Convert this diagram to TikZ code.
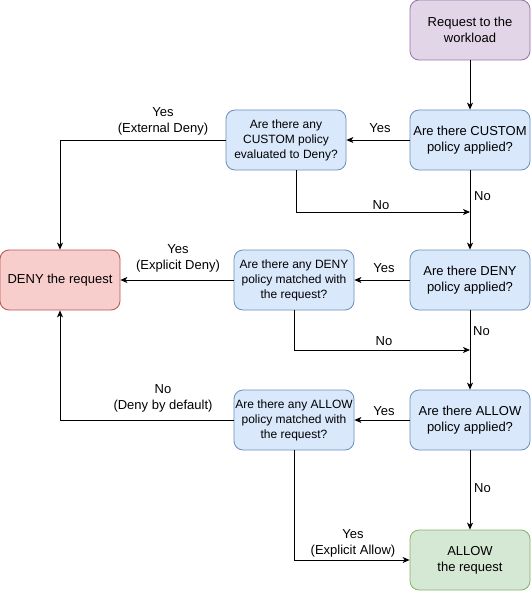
\documentclass[tikz,border=0pt]{standalone}
\usepackage{fontspec}
\setmainfont{Liberation Sans}
\usetikzlibrary{arrows.meta}
\definecolor{pfill}{HTML}{E1D5E7}\definecolor{pline}{HTML}{9673A6}
\definecolor{bfill}{HTML}{DAE8FC}\definecolor{bline}{HTML}{6C8EBF}
\definecolor{rfill}{HTML}{F8CECC}\definecolor{rline}{HTML}{B85450}
\definecolor{gfill}{HTML}{D5E8D4}\definecolor{gline}{HTML}{82B366}
\tikzset{
  box/.style={rectangle, rounded corners=9pt, minimum width=120pt, minimum height=60pt, inner sep=0pt, align=center, line width=0.8pt, font=\fontsize{13}{16}\selectfont},
  qbox/.style={box, font=\fontsize{12}{15}\selectfont},
  purplebox/.style={box, fill=pfill, draw=pline},
  bluebox/.style={box, fill=bfill, draw=bline},
  blueq/.style={qbox, fill=bfill, draw=bline},
  redbox/.style={box, fill=rfill, draw=rline},
  greenbox/.style={box, fill=gfill, draw=gline},
  conn/.style={draw, line width=0.8pt, -{Stealth[length=7pt,width=6pt,inset=2pt]}},
  lbl/.style={inner sep=0pt, align=center, font=\fontsize{13}{16}\selectfont}
}
\begin{document}
\begin{tikzpicture}[x=1pt,y=-1pt]
\useasboundingbox (0,0) rectangle (531,591);
\node[purplebox] (req) at (470,30) {Request to the\\workload};
\node[bluebox] (capp) at (470,140) {Are there CUSTOM\\policy applied?};
\node[blueq] (cdeny) at (286,140) {Are there any\\CUSTOM policy\\evaluated to Deny?};
\node[redbox] (deny) at (60,280) {DENY the request};
\node[bluebox] (dapp) at (470,280) {Are there DENY\\policy applied?};
\node[blueq] (dmatch) at (294,280) {Are there any DENY\\policy matched with\\the request?};
\node[bluebox] (aapp) at (470,420) {Are there ALLOW\\policy applied?};
\node[blueq] (amatch) at (294,420) {Are there any ALLOW\\policy matched with\\the request?};
\node[greenbox] (allow) at (470,560) {ALLOW\\the request};

\coordinate (c1) at (60,140);
\coordinate (c2) at (470,212);
\coordinate (c3) at (470,350);
\coordinate (c4) at (60,420);
\coordinate (c0) at (296,170);

\path[conn] (req) -- (capp);
\path[conn] (capp) -- (cdeny);
\path[conn] (cdeny.west) -- (c1) -- (deny.north);
\path[conn] (c0) |- (c2);
\path[conn] (capp) -- (dapp);
\path[conn] (dapp) -- (dmatch);
\path[conn] (dmatch) -- (deny);
\path[conn] (dmatch.south) |- (c3);
\path[conn] (dapp) -- (aapp);
\path[conn] (aapp) -- (amatch);
\path[conn] (amatch.west) -- (c4) -- (deny.south);
\path[conn] (amatch.south) |- (allow.west);
\path[conn] (aapp) -- (allow);

\node[lbl] (l1) at (380,128) {Yes};
\node[lbl] (l2) at (163,121) {Yes\\(External Deny)};
\node[lbl] (l3) at (381,205) {No};
\node[lbl, anchor=west] (l4) at (474,196) {No};
\node[lbl] (l5) at (384,268) {Yes};
\node[lbl] (l6) at (178,258) {Yes\\(Explicit Deny)};
\node[lbl] (l7) at (384,341) {No};
\node[lbl, anchor=west] (l8) at (473,331) {No};
\node[lbl] (l9) at (384,411) {Yes};
\node[lbl] (l10) at (163,398) {No\\(Deny by default)};
\node[lbl] (l11) at (353,543) {Yes\\(Explicit Allow)};
\node[lbl, anchor=west] (l12) at (474,488) {No};
\end{tikzpicture}
\end{document}
